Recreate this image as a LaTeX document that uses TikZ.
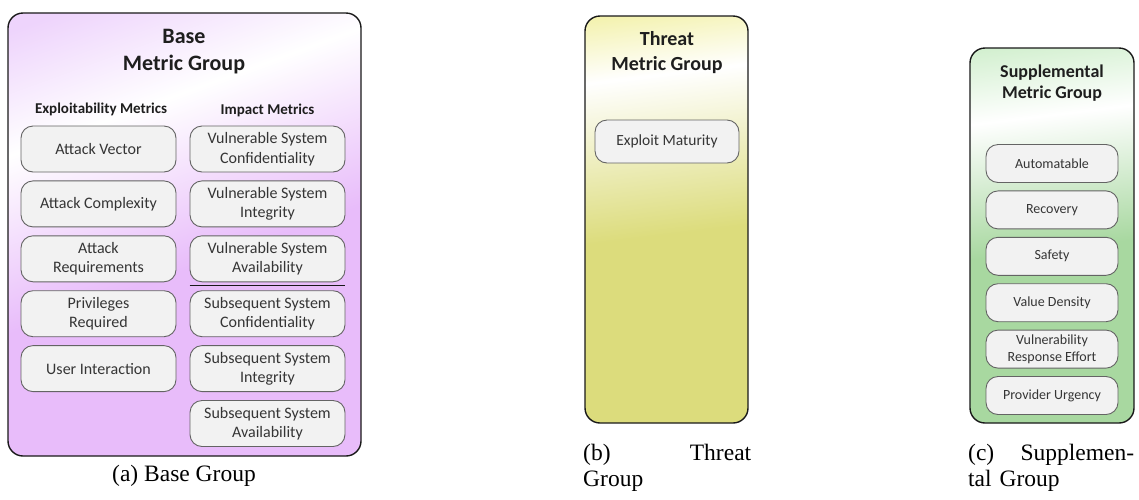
\documentclass[tikz,border=0pt]{standalone}
\usepackage{fontspec}
\setmainfont{Liberation Serif}
\setsansfont{Carlito}
\usetikzlibrary{positioning}

\definecolor{boxfill}{RGB}{242,242,242}
\definecolor{boxline}{RGB}{100,100,100}
\definecolor{inktext}{RGB}{30,30,30}
\definecolor{basetop}{RGB}{238,212,252}
\definecolor{basebot}{RGB}{232,188,250}
\definecolor{thrtop}{RGB}{240,238,150}
\definecolor{thrbot}{RGB}{220,220,124}
\definecolor{suptop}{RGB}{200,236,196}
\definecolor{supbot}{RGB}{168,216,160}

% panel backgrounds: pale top, white streak, saturated lower part
\pgfdeclareverticalshading{basefill}{100bp}{color(0bp)=(basebot); color(46bp)=(basebot); color(66bp)=(white); color(80bp)=(basetop); color(100bp)=(basetop)}
\pgfdeclareverticalshading{thrfill}{100bp}{color(0bp)=(thrbot); color(48bp)=(thrbot); color(69bp)=(white); color(80bp)=(thrtop); color(100bp)=(thrtop)}
\pgfdeclareverticalshading{supfill}{100bp}{color(0bp)=(supbot); color(48bp)=(supbot); color(67bp)=(white); color(80bp)=(suptop); color(100bp)=(suptop)}

\tikzset{
  panel/.style={draw=black!90, line width=1.4pt, rounded corners=15pt, inner sep=0pt},
  metric/.style={draw=boxline, fill=boxfill, line width=0.9pt, rounded corners=12pt,
    align=center, inner sep=0pt, text=inktext!90},
  bigmetric/.style={metric, minimum width=155pt, minimum height=46pt,
    font=\sffamily\fontsize{16}{19.5}\selectfont},
  smallmetric/.style={metric, minimum width=132pt, minimum height=38pt,
    font=\sffamily\fontsize{14}{17}\selectfont},
  grouptitle/.style={align=center, inner sep=0pt, text=inktext},
  colhead/.style={inner sep=0pt, text=inktext, font=\sffamily\bfseries\fontsize{15}{18}\selectfont},
  sepline/.style={line width=1.3pt, black!90},
  subcap/.style={inner sep=0pt, font=\rmfamily\fontsize{23.5}{26}\selectfont}}

\begin{document}
\begin{tikzpicture}[x=1pt,y=-1pt]
  \useasboundingbox (0,0) rectangle (1139,499);

  % base group
  \node[panel, shading=basefill, shading angle=20, minimum width=353pt, minimum height=443pt] (base) at (184.5,234.5) {};
  \node[grouptitle, font=\sffamily\bfseries\fontsize{22}{27}\selectfont] (basetitle) at (184,52) {Base\\Metric Group};
  \node[colhead] (expl) at (101,109) {Exploitability Metrics};
  \node[colhead] (impact) at (267.5,110) {Impact Metrics};

  \node[bigmetric] (l1) at (98.5,149) {Attack Vector};
  \foreach \txt [count=\i from 2, remember=\i as \j (initially 1)] in
      {Attack Complexity, {Attack\\Requirements}, {Privileges\\Required}, User Interaction}
    \node[bigmetric, below=8pt of l\j] (l\i) {\txt};

  \node[bigmetric] (r1) at (267.5,149) {Vulnerable System\\Confidentiality};
  \foreach \txt [count=\i from 2, remember=\i as \j (initially 1)] in
      {{Vulnerable System\\Integrity}, {Vulnerable System\\Availability},
       {Subsequent System\\Confidentiality}, {Subsequent System\\Integrity},
       {Subsequent System\\Availability}}
    \node[bigmetric, below=8pt of r\j] (r\i) {\txt};

  \draw[sepline] ([yshift=-3.5pt]r3.south west) -- ([yshift=-3.5pt]r3.south east);

  % threat group
  \node[panel, shading=thrfill, shading angle=7, minimum width=163pt, minimum height=407pt] (threat) at (666.5,219.5) {};
  \node[grouptitle, font=\sffamily\bfseries\fontsize{20}{25}\selectfont] (thrtitle) at (667,53) {Threat\\Metric Group};
  \node[metric, minimum width=144pt, minimum height=43pt, font=\sffamily\fontsize{15.5}{19}\selectfont] (em) at (667,141.5) {Exploit Maturity};

  % supplemental group
  \node[panel, shading=supfill, shading angle=7, minimum width=164pt, minimum height=375pt] (supp) at (1052,235.5) {};
  \node[grouptitle, font=\sffamily\bfseries\fontsize{18}{21}\selectfont] (suptitle) at (1052,83) {Supplemental\\Metric Group};
  \node[smallmetric] (s1) at (1052,163.5) {Automatable};
  \foreach \txt [count=\i from 2, remember=\i as \j (initially 1)] in
      {Recovery, Safety, Value Density, {Vulnerability\\Response Effort}, Provider Urgency}
    \node[smallmetric, below=7.5pt of s\j] (s\i) {\txt};

  % sub-captions
  \node[subcap] (capa) at (184,476) {(a) Base Group};
  \node[subcap, text width=168pt, align=left, anchor=north west] (capb) at (583,443.5) {(b)\hfill Threat\\Group};
  \node[subcap, text width=166pt, align=left, anchor=north west] (capc) at (968,443.5) {(c)\hfill Supplemen-\\tal Group};
\end{tikzpicture}
\end{document}
